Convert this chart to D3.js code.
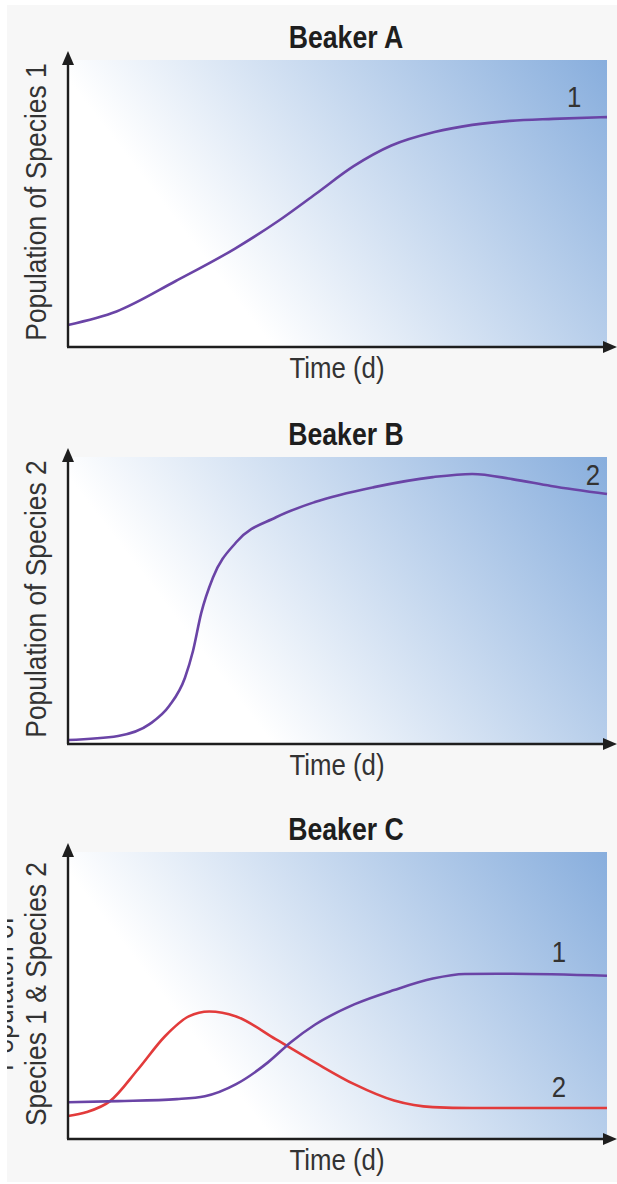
<!DOCTYPE html>
<html>
<head>
<meta charset="utf-8">
<script src="https://cdn.jsdelivr.net/npm/d3@7"></script>
<style>
  body { margin: 0; background: #fff; }
  svg { display: block; }
</style>
</head>
<body>
<div id="chart"></div>
<script>
// time axis is 0..100 (no units shown), population is 0..100 (relative)
var timeA = [0, 9, 20, 31, 39, 46, 53, 60, 68, 75, 82, 90, 100];
var popA1 = [7.7, 12.4, 23.0, 34.3, 43.9, 53.4, 63.0, 70.2, 74.9, 77.4, 78.8, 79.5, 80.1];

var timeB = [0, 9.3, 15.2, 18.8, 21.7, 23.2, 24.7, 26.9, 31.2, 38.6, 45.8, 56.8, 67.7, 75, 82.4, 89.6, 100];
var popB2 = [1.4, 2.8, 7.0, 13.3, 23.1, 32.5, 45.5, 58.0, 70.3, 79.0, 84.3, 89.5, 93.0, 94.1, 92.3, 89.9, 87.1];

var timeC1 = [0, 9.3, 20.2, 25.4, 31.2, 37.1, 41.4, 45.8, 53.1, 60.5, 67.7, 73.6, 82.4, 100];
var popC1 = [12.8, 13.2, 13.9, 14.9, 19.1, 26.7, 33.8, 39.8, 46.9, 51.9, 55.9, 57.5, 57.6, 56.9];

var timeC2 = [0, 3.5, 7.8, 13.0, 18.0, 22.4, 26.2, 31.2, 38.6, 45.8, 53.1, 60.5, 67.7, 75, 100];
var popC2 = [8.0, 9.4, 13.2, 24.3, 35.8, 42.7, 44.4, 42.7, 34.7, 26.7, 19.1, 13.4, 11.1, 10.8, 10.8];

var titles = ["Beaker A", "Beaker B", "Beaker C"];
var yLabels = [["Population of Species 1"], ["Population of Species 2"], ["Population of", "Species 1 & Species 2"]];
var xLabel = "Time (d)";

var panels = [
  { series: [{t: timeA, p: popA1, color: "#6a44a6", label: "1", lx: 93.9, ly: 83.6}] },
  { series: [{t: timeB, p: popB2, color: "#6a44a6", label: "2", lx: 97.4, ly: 90.2}] },
  { series: [{t: timeC2, p: popC2, color: "#e23b3b", label: "2", lx: 91.1, ly: 14.6},
             {t: timeC1, p: popC1, color: "#6a44a6", label: "1", lx: 91.1, ly: 61.7}] }
];
var tops = [60, 457, 852];

var W = 617, H = 1184;
var left = 68, w = 539, h = 287;
var font = "'Liberation Sans', Arial, sans-serif";

var svg = d3.select("#chart").append("svg")
  .attr("width", W)
  .attr("height", H);

svg.append("rect")
  .attr("x", 7).attr("y", 5)
  .attr("width", W - 7).attr("height", H - 7)
  .attr("fill", "#f7f7f7");

var defs = svg.append("defs");
var grad = defs.append("linearGradient")
  .attr("id", "bg")
  .attr("gradientUnits", "userSpaceOnUse")
  .attr("x1", 0).attr("y1", h)
  .attr("x2", 478).attr("y2", h - 366);
grad.append("stop").attr("offset", 0).attr("stop-color", "#ffffff");
grad.append("stop").attr("offset", 0.27).attr("stop-color", "#ffffff");
grad.append("stop").attr("offset", 1).attr("stop-color", "#88aedd");

var x = d3.scaleLinear().domain([0, 100]).range([0, w]);
var y = d3.scaleLinear().domain([0, 100]).range([h, 0]);

var line = d3.line()
  .x(function(d) { return x(d[0]); })
  .y(function(d) { return y(d[1]); })
  .curve(d3.curveMonotoneX);

panels.forEach(function(panel, i) {
  var g = svg.append("g")
    .attr("transform", "translate(" + left + "," + tops[i] + ")");

  g.append("rect")
    .attr("width", w)
    .attr("height", h)
    .attr("fill", "url(#bg)");

  // title
  g.append("text")
    .attr("transform", "translate(" + (346 - left) + "," + (-12) + ") scale(0.86,1)")
    .attr("text-anchor", "middle")
    .style("font-family", font)
    .style("font-weight", "bold")
    .style("font-size", "31px")
    .style("fill", "#1e1e1e")
    .text(titles[i]);

  // curves
  panel.series.forEach(function(s) {
    var pts = s.t.map(function(t, k) { return [t, s.p[k]]; });
    g.append("path")
      .datum(pts)
      .attr("d", line)
      .attr("fill", "none")
      .attr("stroke", s.color)
      .attr("stroke-width", 2.6);

    g.append("text")
      .attr("transform", "translate(" + x(s.lx) + "," + y(s.ly) + ") scale(0.86,1)")
      .attr("text-anchor", "middle")
      .style("font-family", font)
      .style("font-size", "30px")
      .style("fill", "#333")
      .text(s.label);
  });

  // axes with arrowheads
  g.append("line")
    .attr("x1", 0).attr("y1", h)
    .attr("x2", 0).attr("y2", -2)
    .attr("stroke", "#1e1e1e").attr("stroke-width", 2.4);
  g.append("path")
    .attr("d", "M0,-9 L-6,5 L6,5 Z")
    .attr("fill", "#1e1e1e");
  g.append("line")
    .attr("x1", -1).attr("y1", h)
    .attr("x2", w + 2).attr("y2", h)
    .attr("stroke", "#1e1e1e").attr("stroke-width", 2.4);
  g.append("path")
    .attr("d", "M" + (w + 10) + "," + h + " L" + (w - 4) + "," + (h - 6) + " L" + (w - 4) + "," + (h + 6) + " Z")
    .attr("fill", "#1e1e1e");

  // x label
  g.append("text")
    .attr("transform", "translate(" + (337 - left) + "," + (h + 31) + ") scale(0.86,1)")
    .attr("text-anchor", "middle")
    .style("font-family", font)
    .style("font-size", "30px")
    .style("fill", "#333")
    .text(xLabel);

  // y label (one or two lines)
  var lines = yLabels[i];
  lines.forEach(function(txt, k) {
    var bx = 46 - (lines.length - 1 - k) * 33;
    g.append("text")
      .attr("transform", "translate(" + (bx - left) + "," + 142 + ") rotate(-90) scale(0.88,1)")
      .attr("text-anchor", "middle")
      .style("font-family", font)
      .style("font-size", "30px")
      .style("fill", "#333")
      .text(txt);
  });
});

// white margin strip that crops the left edge
svg.append("rect")
  .attr("x", 0).attr("y", 0)
  .attr("width", 7).attr("height", H)
  .attr("fill", "#fff");
svg.append("rect")
  .attr("x", 0).attr("y", 0)
  .attr("width", W).attr("height", 5)
  .attr("fill", "#fff");
</script>
</body>
</html>
